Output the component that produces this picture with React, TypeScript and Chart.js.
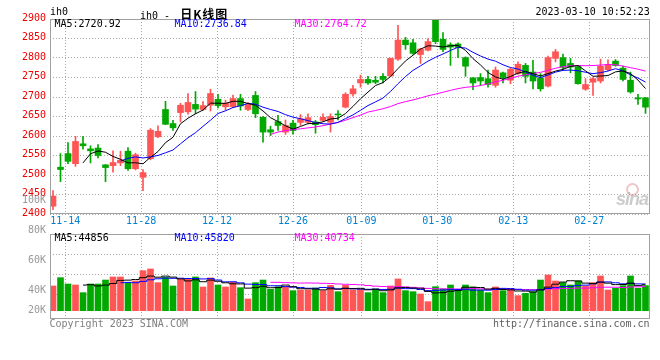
import React, { useEffect, useRef } from 'react';
import { Chart, registerables } from 'chart.js';

Chart.register(...registerables);

// ---------- data ----------
const DATES = [
  '11-11', '11-14', '11-15', '11-16', '11-17', '11-18', '11-21', '11-22', '11-23', '11-24',
  '11-25', '11-28', '11-29', '11-30', '12-01', '12-02', '12-05', '12-06', '12-07', '12-08',
  '12-09', '12-12', '12-13', '12-14', '12-15', '12-16', '12-19', '12-20', '12-21', '12-22',
  '12-23', '12-26', '12-27', '12-28', '12-29', '12-30', '01-03', '01-04', '01-05', '01-06',
  '01-09', '01-10', '01-11', '01-12', '01-13', '01-16', '01-17', '01-18', '01-19', '01-20',
  '01-30', '01-31', '02-01', '02-02', '02-03', '02-06', '02-07', '02-08', '02-09', '02-10',
  '02-13', '02-14', '02-15', '02-16', '02-17', '02-20', '02-21', '02-22', '02-23', '02-24',
  '02-27', '02-28', '03-01', '03-02', '03-03', '03-06', '03-07', '03-08', '03-09', '03-10',
];

const OPEN = [
  2420, 2520, 2555, 2529, 2580, 2567, 2569, 2526, 2524, 2531,
  2561, 2516, 2494, 2542, 2598, 2668, 2632, 2660, 2662, 2681,
  2668, 2679, 2694, 2675, 2675, 2696, 2668, 2704, 2648, 2616,
  2637, 2610, 2633, 2635, 2635, 2636, 2640, 2635, 2655, 2674,
  2708, 2736, 2745, 2743, 2753, 2754, 2797, 2846, 2839, 2809,
  2820, 2898, 2848, 2834, 2836, 2801, 2749, 2750, 2747, 2730,
  2762, 2743, 2760, 2781, 2764, 2749, 2728, 2799, 2801, 2786,
  2778, 2720, 2738, 2741, 2770, 2792, 2774, 2743, 2698, 2698,
];
const HIGH = [
  2460, 2555, 2583, 2599, 2599, 2575, 2578, 2527, 2562, 2561,
  2570, 2556, 2514, 2619, 2626, 2689, 2640, 2684, 2709, 2714,
  2688, 2720, 2707, 2692, 2705, 2707, 2686, 2714, 2650, 2625,
  2653, 2641, 2640, 2655, 2657, 2640, 2657, 2657, 2665, 2711,
  2730, 2756, 2753, 2753, 2760, 2800, 2884, 2853, 2848, 2825,
  2850, 2900, 2865, 2839, 2839, 2803, 2750, 2760, 2769, 2777,
  2764, 2775, 2790, 2786, 2794, 2760, 2805, 2822, 2810, 2799,
  2781, 2747, 2750, 2797, 2795, 2796, 2779, 2764, 2707, 2699,
];
const LOW = [
  2411, 2483, 2529, 2522, 2566, 2531, 2544, 2483, 2507, 2524,
  2512, 2513, 2460, 2539, 2596, 2629, 2614, 2636, 2656, 2657,
  2665, 2664, 2672, 2666, 2673, 2666, 2665, 2647, 2584, 2601,
  2614, 2604, 2605, 2627, 2631, 2607, 2638, 2610, 2641, 2672,
  2702, 2725, 2732, 2734, 2736, 2752, 2794, 2822, 2810, 2786,
  2818, 2837, 2816, 2781, 2801, 2753, 2719, 2730, 2725, 2725,
  2736, 2734, 2758, 2736, 2721, 2715, 2726, 2790, 2770, 2762,
  2733, 2717, 2704, 2736, 2767, 2779, 2741, 2710, 2681, 2658,
];
const CLOSE = [
  2446, 2514, 2535, 2586, 2575, 2562, 2550, 2519, 2532, 2538,
  2516, 2552, 2506, 2615, 2612, 2630, 2621, 2679, 2686, 2669,
  2678, 2709, 2678, 2684, 2696, 2677, 2681, 2657, 2610, 2610,
  2627, 2627, 2614, 2644, 2647, 2629, 2648, 2650, 2654, 2707,
  2721, 2745, 2736, 2738, 2745, 2799, 2846, 2834, 2812, 2823,
  2842, 2842, 2822, 2828, 2827, 2779, 2736, 2741, 2732, 2769,
  2750, 2771, 2784, 2753, 2741, 2721, 2801, 2816, 2776, 2777,
  2734, 2732, 2747, 2779, 2783, 2781, 2745, 2713, 2695, 2674,
];
const VOLUME = [
  42200, 56400, 45600, 43900, 30800, 45600, 45600, 52400, 57600, 57600,
  47900, 50700, 68400, 71300, 47900, 57000, 42200, 53600, 53600, 57600,
  40500, 55900, 43900, 40500, 49000, 39300, 20000, 47900, 52400, 36500,
  41000, 41000, 34200, 35300, 35300, 38800, 34200, 43300, 32500, 43300,
  35300, 36500, 30800, 37100, 30800, 42200, 54200, 34200, 32500, 28500,
  15400, 41000, 37100, 43900, 34200, 43900, 40500, 35300, 30800, 40500,
  34200, 37100, 25700, 29600, 32500, 52400, 61000, 50700, 47900, 43900,
  50700, 42200, 47900, 59300, 35300, 38200, 42800, 59300, 38200, 42800,
];

const DATE_TICKS = ['11-14', '11-28', '12-12', '12-26', '01-09', '01-30', '02-13', '02-27'];
const PRICE_MIN = 2400;
const PRICE_MAX = 2900;
const PRICE_STEP = 50;
const VOL_MIN = -14250;
const VOL_MAX = 131100;
const VOL_AXIS_LABELS = ['100K', '80K', '60K', '40K', '20K'];
const MA_PERIODS = [5, 10, 30];
const PRICE_MA_LABELS = ['MA5:2720.92', 'MA10:2736.84', 'MA30:2764.72'];
const VOLUME_MA_LABELS = ['MA5:44856', 'MA10:45820', 'MA30:40734'];

// ---------- styling ----------
const MONO = '"DejaVu Sans Mono", monospace';
const UP = '#ff5555';
const DOWN = '#00a800';
const MA_COLORS = ['#000000', '#0000ff', '#ff00ff'];
const GRID = '#a8a8a8';
const FRAME = '#a0a0a0';

const N = DATES.length;
const X_MIN = -0.4;
const X_MAX = N - 0.4;
const gridPosition = (i: number) => X_MIN + ((i + 1) * N) / (N - 1);

function movingAverage(values: number[], period: number) {
  return values.map((_, i) => {
    if (i < period - 1) return null;
    let s = 0;
    for (let k = i - period + 1; k <= i; k++) s += values[k];
    return s / period;
  });
}

const candleColors = DATES.map((_, i) => (CLOSE[i] >= OPEN[i] ? UP : DOWN));

const framePlugin = {
  id: 'frame',
  afterDatasetsDraw(chart: any) {
    const { ctx, chartArea } = chart;
    const { left, top, right, bottom } = chartArea;
    ctx.save();
    ctx.strokeStyle = FRAME;
    ctx.lineWidth = 1;
    ctx.strokeRect(left + 0.5, top + 0.5, right - left - 1, bottom - top - 1);
    ctx.restore();
  },
};

const volumeLabelPlugin = {
  id: 'volumeLabels',
  afterDraw(chart: any) {
    const { ctx } = chart;
    const base = chart.scales.y.getPixelForValue(0);
    ctx.save();
    ctx.font = `10px ${MONO}`;
    ctx.fillStyle = '#999999';
    ctx.textAlign = 'right';
    ctx.textBaseline = 'middle';
    VOL_AXIS_LABELS.forEach((t, k) => {
      const n = VOL_AXIS_LABELS.length - 1 - k;
      const y = n === 0 ? base : base - 20 - 30 * (n - 1);
      ctx.fillText(t, 46, y);
    });
    ctx.restore();
  },
};

function xScale(showLabels: boolean, height: number) {
  return {
    type: 'linear',
    min: X_MIN,
    max: X_MAX,
    offset: false,
    grid: { color: GRID, lineWidth: 1, drawTicks: false, offset: false },
    border: { display: false, dash: [1, 2] },
    afterBuildTicks: (s: any) => {
      s.ticks = DATE_TICKS.map((d) => ({ value: gridPosition(DATES.indexOf(d)) }));
    },
    ticks: {
      display: showLabels,
      autoSkip: false,
      maxRotation: 0,
      padding: 1,
      color: '#0080d0',
      font: { family: MONO, size: 10 },
      callback: (_v: any, i: number) => DATE_TICKS[i],
    },
    afterFit: (s: any) => {
      s.height = height;
    },
  };
}

function priceConfig(): any {
  const idx = DATES.map((_, i) => i);
  return {
    type: 'bar',
    data: {
      datasets: [
        ...MA_PERIODS.map((p, k) => ({
          type: 'line',
          data: movingAverage(CLOSE, p)
            .map((v, i) => ({ x: i, y: v }))
            .filter((d) => d.y !== null),
          borderColor: MA_COLORS[k],
          borderWidth: 1,
          pointRadius: 0,
          fill: false,
          tension: 0,
          order: 0,
        })),
        {
          type: 'bar',
          data: idx.map((i) => ({ x: i, y: [OPEN[i], CLOSE[i]] })),
          backgroundColor: candleColors,
          barThickness: 6,
          grouped: false,
          minBarLength: 1,
          borderWidth: 0,
          order: 1,
        },
        {
          type: 'bar',
          data: idx.map((i) => ({ x: i, y: [LOW[i], HIGH[i]] })),
          backgroundColor: candleColors,
          barThickness: 1,
          grouped: false,
          borderWidth: 0,
          order: 2,
        },
      ],
    },
    options: {
      responsive: false,
      animation: false,
      devicePixelRatio: 1,
      events: [],
      layout: { padding: { left: 0, right: 10, top: 19, bottom: 0 } },
      plugins: { legend: { display: false }, tooltip: { enabled: false } },
      scales: {
        x: xScale(true, 16),
        y: {
          type: 'linear',
          position: 'left',
          min: PRICE_MIN,
          max: PRICE_MAX,
          grid: { color: GRID, lineWidth: 1, drawTicks: false },
          border: { display: false, dash: [1, 2] },
          ticks: {
            stepSize: PRICE_STEP,
            color: '#ee0000',
            padding: 4,
            labelOffset: -1,
            font: { family: MONO, size: 10 },
            callback: (v: any) => String(v),
          },
          afterFit: (s: any) => {
            s.width = 50;
          },
        },
      },
    },
    plugins: [framePlugin],
  };
}

function volumeConfig(): any {
  const idx = DATES.map((_, i) => i);
  return {
    type: 'bar',
    data: {
      datasets: [
        ...MA_PERIODS.map((p, k) => ({
          type: 'line',
          data: movingAverage(VOLUME, p)
            .map((v, i) => ({ x: i, y: v }))
            .filter((d) => d.y !== null),
          borderColor: MA_COLORS[k],
          borderWidth: 1,
          pointRadius: 0,
          fill: false,
          stepped: 'middle',
          order: 0,
        })),
        {
          type: 'bar',
          data: idx.map((i) => ({ x: i, y: VOLUME[i] })),
          backgroundColor: candleColors,
          barThickness: 6,
          grouped: false,
          borderWidth: 0,
          order: 1,
        },
      ],
    },
    options: {
      responsive: false,
      animation: false,
      devicePixelRatio: 1,
      events: [],
      layout: { padding: { left: 0, right: 10, top: 44, bottom: 41 } },
      plugins: { legend: { display: false }, tooltip: { enabled: false } },
      scales: {
        x: xScale(false, 0),
        y: {
          type: 'linear',
          position: 'left',
          min: VOL_MIN,
          max: VOL_MAX,
          grid: { color: GRID, lineWidth: 1, drawTicks: false },
          border: { display: false, dash: [1, 2] },
          afterBuildTicks: (s: any) => {
            s.ticks = [0.245, 0.48, 0.715].map((f) => ({ value: s.max - f * (s.max - s.min) }));
          },
          ticks: { display: false },
          afterFit: (s: any) => {
            s.width = 50;
          },
        },
      },
    },
    plugins: [framePlugin, volumeLabelPlugin],
  };
}

const txt = (left: number, top: number, color: string, extra: any = {}): any => ({
  position: 'absolute',
  left,
  top,
  color,
  font: `10px ${MONO}`,
  lineHeight: '12px',
  whiteSpace: 'pre',
  ...extra,
});

export default function App() {
  const priceRef = useRef<HTMLCanvasElement>(null);
  const volRef = useRef<HTMLCanvasElement>(null);

  useEffect(() => {
    const c1 = new Chart(priceRef.current as HTMLCanvasElement, priceConfig());
    const c2 = new Chart(volRef.current as HTMLCanvasElement, volumeConfig());
    return () => {
      c1.destroy();
      c2.destroy();
    };
  }, []);

  const legendLefts = [54.5, 174.5, 294.5];

  return (
    <div
      style={{
        position: 'absolute',
        left: 0,
        top: 0,
        width: 660,
        height: 360,
        background: '#ffffff',
        overflow: 'hidden',
      }}
    >
      <canvas
        ref={priceRef}
        width={660}
        height={230}
        style={{ position: 'absolute', left: 0, top: 0, width: 660, height: 230 }}
      />
      <canvas
        ref={volRef}
        width={660}
        height={170}
        style={{ position: 'absolute', left: 0, top: 190, width: 660, height: 170 }}
      />

      <div style={txt(50, 5.5, '#000')}>ih0</div>
      <div style={txt(140, 5, '#000')}>
        ih0 -{' '}
        <span
          style={{
            font: 'bold 12px "Noto Sans CJK SC"',
            letterSpacing: '1px',
            marginLeft: 4,
          }}
        >
          日K线图
        </span>
      </div>
      <div style={txt(535.5, 5.5, '#000')}>2023-03-10 10:52:23</div>

      {PRICE_MA_LABELS.map((t, k) => (
        <div key={'p' + k} style={txt(legendLefts[k], 18, MA_COLORS[k])}>
          {t}
        </div>
      ))}
      {VOLUME_MA_LABELS.map((t, k) => (
        <div key={'v' + k} style={txt(legendLefts[k], 232.3, MA_COLORS[k])}>
          {t}
        </div>
      ))}

      <div style={txt(49.5, 317.5, '#808080')}>Copyright 2023 SINA.COM</div>
      <div style={txt(493, 317.5, '#606060')}>http://finance.sina.com.cn</div>

      <div
        style={{
          position: 'absolute',
          left: 626,
          top: 183,
          width: 9,
          height: 9,
          borderRadius: '50%',
          border: '2px solid rgba(225,150,150,0.55)',
        }}
      />
      <div
        style={{
          position: 'absolute',
          left: 616,
          top: 189,
          font: 'italic bold 18px "Liberation Sans", Arial, sans-serif',
          letterSpacing: '-1px',
          color: 'rgba(170,170,170,0.6)',
          lineHeight: '20px',
        }}
      >
        sina
      </div>
    </div>
  );
}
